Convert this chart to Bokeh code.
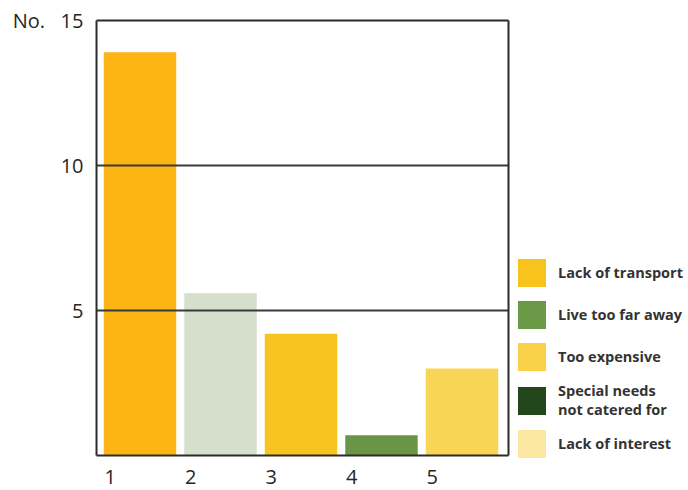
from bokeh.plotting import figure
from bokeh.models import FixedTicker, Legend, LegendItem, Range1d
from bokeh.embed import file_html
from bokeh.resources import INLINE

# ---- data ----
categories = [1, 2, 3, 4, 5]
tick_labels = ["1", "2", "3", "4", "5"]
values = [13.9, 5.6, 4.2, 0.7, 3.0]
bar_colors = ["#FDB515", "#D5DFCB", "#F8C41F", "#6B9546", "#F9D555"]
legend_labels = ["Lack of transport", "Live too far away", "Too expensive",
                 "Special needs\nnot catered for", "Lack of interest"]
legend_colors = ["#F8C31D", "#6A9A48", "#FAD24A", "#24461C", "#FCE8A0"]
y_ticks = [5, 10, 15]

FONT = "Open Sans"

box_left, box_right = 0.46, 5.578
p = figure(width=688, height=490, output_backend="svg", toolbar_location=None,
           x_range=Range1d(0.435, 0.435 + 594 / 80.5), y_range=Range1d(-0.1, 15.1),
           min_border_left=94, min_border_right=0, min_border_top=17,
           min_border_bottom=32)
p.outline_line_color = None
p.background_fill_color = "white"
p.border_fill_color = "white"
p.xgrid.visible = False
p.ygrid.visible = False

# bars
p.vbar(x=categories, top=values, width=0.9, bottom=0,
       fill_color=bar_colors, line_color=None)

# grid lines over bars (stop at box edge)
p.segment(x0=[box_left] * 2, x1=[box_right] * 2, y0=[5, 10], y1=[5, 10],
          line_color="#3a3a3a", line_width=2)
# chart box
p.segment(x0=[box_left, box_left, box_right, box_left],
          x1=[box_left, box_right, box_right, box_right],
          y0=[0, 15, 0, 0], y1=[15, 15, 15, 0],
          line_color="#2b2b2b", line_width=2)

# axes
tick_pos = [c - 0.37 for c in categories]
p.xaxis.ticker = FixedTicker(ticks=tick_pos)
p.xaxis.major_label_overrides = {t: l for t, l in zip(tick_pos, tick_labels)}
p.yaxis.ticker = FixedTicker(ticks=y_ticks)
p.yaxis.major_label_overrides = {15: "No.\u00a0\u00a0\u00a015"}
for ax in (p.xaxis[0], p.yaxis[0]):
    ax.axis_line_color = None
    ax.major_tick_line_color = None
    ax.minor_tick_line_color = None
    ax.major_label_text_font = FONT
    ax.major_label_text_font_size = "20px"
    ax.major_label_text_color = "#262626"
p.xaxis.major_label_standoff = 5
p.yaxis.major_label_standoff = 5

# legend (zero-height proxy renderers: nothing drawn in the plot)
items = []
for lab, col in zip(legend_labels, legend_colors):
    r = p.vbar(x=[1], top=[0], bottom=[0], width=0.9, fill_color=col,
               line_color=None)
    items.append(LegendItem(label=lab, renderers=[r]))
legend = Legend(items=items, location=(420, -3), glyph_width=35, glyph_height=35,
                label_standoff=9, spacing=7, padding=0, margin=0,
                border_line_color=None, background_fill_alpha=0,
                label_text_font=FONT, label_text_font_size="14.5px",
                label_text_font_style="bold", label_text_color="#333333",
                label_text_line_height=1.05)
p.add_layout(legend, "center")

open("out.html", "w").write(file_html(p, INLINE))
